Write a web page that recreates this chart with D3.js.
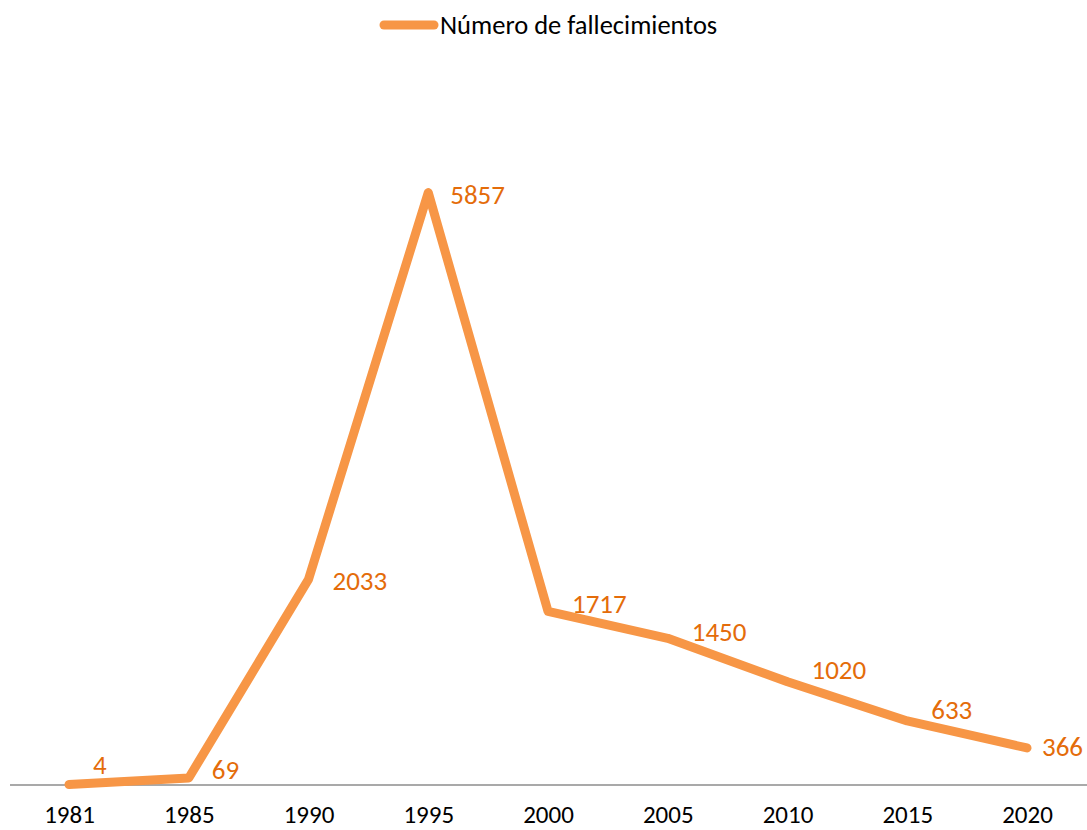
<!DOCTYPE html>
<html><head><meta charset="utf-8">
<script src="https://cdn.jsdelivr.net/npm/d3@7"></script>
<style>body{margin:0;background:#fff}svg{display:block}</style>
</head><body>
<script>
const years = ["1981","1985","1990","1995","2000","2005","2010","2015","2020"];
const deaths = [4,69,2033,5857,1717,1450,1020,633,366];
const seriesName = "Número de fallecimientos";

// label nudges (presentation only)
const labelDx = [24,23,24,22,24,24,24,24,15];
const labelDy = [-20,-8,1,2,-8,-7,-12,-11,-1];

const W=1087,H=830;
const font="Carlito, Calibri, Lato, 'Open Sans', sans-serif";
const svg=d3.select("body").append("svg").attr("width",W).attr("height",H);
const x=d3.scalePoint().domain(years).range([69,1027]);
const y=d3.scaleLinear().domain([0,7000]).range([785,77]);

// axis
const ax=svg.append("g").attr("transform","translate(0,785)")
  .call(d3.axisBottom(x).tickSize(0).tickPadding(20));
ax.select(".domain").remove();
ax.append("line").attr("x1",10).attr("x2",1087).attr("stroke","#8c8c8c").attr("stroke-width",1.5);
ax.selectAll("text").attr("font-family",font).attr("font-size",25).attr("fill","#000").attr("dy","0.71em");

svg.append("path").datum(deaths)
  .attr("d",d3.line().x((d,i)=>x(years[i])).y(d=>y(d)))
  .attr("fill","none").attr("stroke","#F79646").attr("stroke-width",9)
  .attr("stroke-linecap","round").attr("stroke-linejoin","round");

svg.selectAll("text.lbl").data(deaths).enter().append("text").attr("class","lbl")
  .attr("x",(d,i)=>x(years[i])+labelDx[i])
  .attr("y",(d,i)=>y(d)+labelDy[i])
  .attr("dy","0.35em")
  .attr("font-family",font).attr("font-size",27).attr("fill","#E46C0A")
  .text(d=>d);

// legend
const lg=svg.append("g");
lg.append("line").attr("x1",384).attr("x2",434).attr("y1",25).attr("y2",25)
  .attr("stroke","#F79646").attr("stroke-width",9).attr("stroke-linecap","round");
lg.append("text").attr("x",440).attr("y",25).attr("dy","0.35em")
  .attr("font-family",font).attr("font-size",26.5).attr("fill","#000").text(seriesName);
</script>
</body></html>
